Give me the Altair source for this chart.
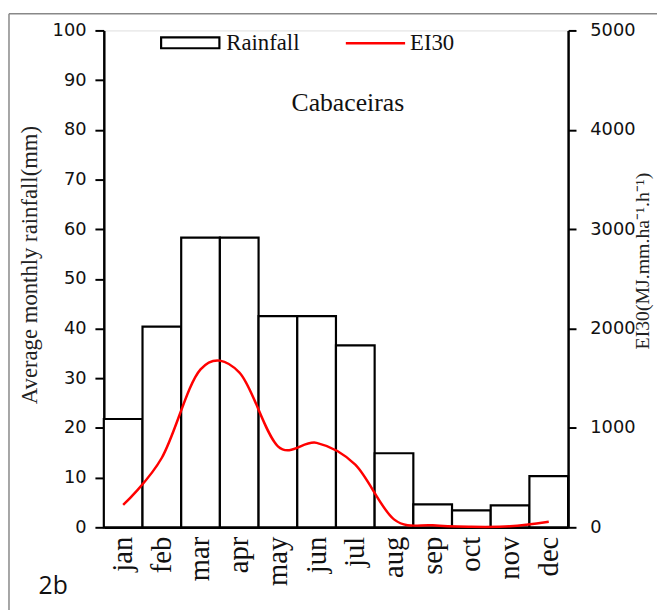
import altair as alt
import pandas as pd

months = ["jan", "feb", "mar", "apr", "may", "jun", "jul", "aug", "sep", "oct", "nov", "dec"]
rainfall = [21.8, 40.4, 58.3, 58.3, 42.5, 42.5, 36.6, 14.9, 4.6, 3.4, 4.4, 10.3]
ei30 = [225, 700, 1590, 1560, 815, 850, 630, 80, 20, 5, 10, 55]
left_ticks = list(range(0, 101, 10))
right_ticks = list(range(0, 5001, 1000))

df = pd.DataFrame({"month": months, "rainfall": rainfall, "ei30": ei30})
one = pd.DataFrame({"a": [0]})

SERIF = "Liberation Serif"
SANS = "DejaVu Sans"

xenc = alt.X(
    "month:N",
    sort=months,
    scale=alt.Scale(paddingInner=0, paddingOuter=0),
    axis=alt.Axis(
        title=None, labelAngle=-90, ticks=False, labelFont=SERIF,
        labelFontSize=29, labelPadding=9, labelColor="#111",
        domainColor="black", domainWidth=2.5,
    ),
)

bars = alt.Chart(df).mark_bar(fill="white", stroke="black", strokeWidth=2.2).encode(
    x=xenc,
    y=alt.Y(
        "rainfall:Q",
        scale=alt.Scale(domain=[0, 100], nice=False),
        axis=alt.Axis(
            orient="left", values=left_ticks, format="d", title="Average monthly rainfall(mm)",
            titleFont=SERIF, titleFontSize=23, titleFontWeight="normal", titleColor="#222",
            titleX=-75, titleY=237, titleAlign="center", titleBaseline="middle",
            labelFont=SANS, labelFontSize=18, labelColor="#111",
            labelPadding=9, tickSize=9, tickWidth=2, tickColor="black",
            domainColor="black", domainWidth=2.5, grid=False,
        ),
    ),
)

line = alt.Chart(df).mark_line(color="red", strokeWidth=2.5, interpolate="cardinal").encode(
    x=alt.X("month:N", sort=months),
    y=alt.Y(
        "ei30:Q",
        scale=alt.Scale(domain=[0, 5000], nice=False),
        axis=alt.Axis(
            orient="right", values=right_ticks, format="d", title="EI30(MJ.mm.ha⁻¹.h⁻¹)",
            titleFont=SERIF, titleFontSize=20, titleFontWeight="normal", titleColor="#222",
            titleAngle=270, titleX=75, titleY=233, titleAlign="center", titleBaseline="middle",
            labelFont=SANS, labelFontSize=18, labelColor="#111",
            labelPadding=14, tickSize=8, tickWidth=2, tickColor="black",
            domainColor="black", domainWidth=2.5, grid=False,
        ),
    ),
)

leg_box = alt.Chart(one).mark_rect(fill="white", stroke="black", strokeWidth=2.2).encode(
    x=alt.value(58), x2=alt.value(117), y=alt.value(7), y2=alt.value(18)
)
leg_rain = alt.Chart(one).mark_text(
    text="Rainfall", font=SERIF, fontSize=23, align="left", baseline="middle", color="#111"
).encode(x=alt.value(124), y=alt.value(13))
leg_line = alt.Chart(one).mark_rule(color="red", strokeWidth=2.5).encode(
    x=alt.value(245), x2=alt.value(305), y=alt.value(13)
)
leg_ei = alt.Chart(one).mark_text(
    text="EI30", font=SERIF, fontSize=23, align="left", baseline="middle", color="#111"
).encode(x=alt.value(310), y=alt.value(13))
site = alt.Chart(one).mark_text(
    text="Cabaceiras", font=SERIF, fontSize=26, align="center", baseline="middle", color="#111"
).encode(x=alt.value(247), y=alt.value(74))
panel = alt.Chart(one).mark_text(
    text="2b", font="Open Sans", fontSize=25, align="left", baseline="middle", color="#111"
).encode(x=alt.value(-66), y=alt.value(563))
frame_left = alt.Chart(one).mark_rule(color="#888", strokeWidth=1.5).encode(
    x=alt.value(-96), y=alt.value(-17), y2=alt.value(600)
)
frame_top = alt.Chart(one).mark_rule(color="#888", strokeWidth=1.5).encode(
    x=alt.value(-96), x2=alt.value(600), y=alt.value(-17)
)

chart = alt.layer(
    bars, line, leg_box, leg_rain, leg_line, leg_ei, site, panel, frame_left, frame_top
).resolve_scale(y="independent").properties(
    width=470, height=503,
    autosize=alt.AutoSizeParams(type="none"),
    padding={"left": 97, "top": 19, "right": 90, "bottom": 80},
).configure_view(stroke=None).configure(background="white")

chart.save("out.html", embed_options={"renderer": "svg", "actions": False})
